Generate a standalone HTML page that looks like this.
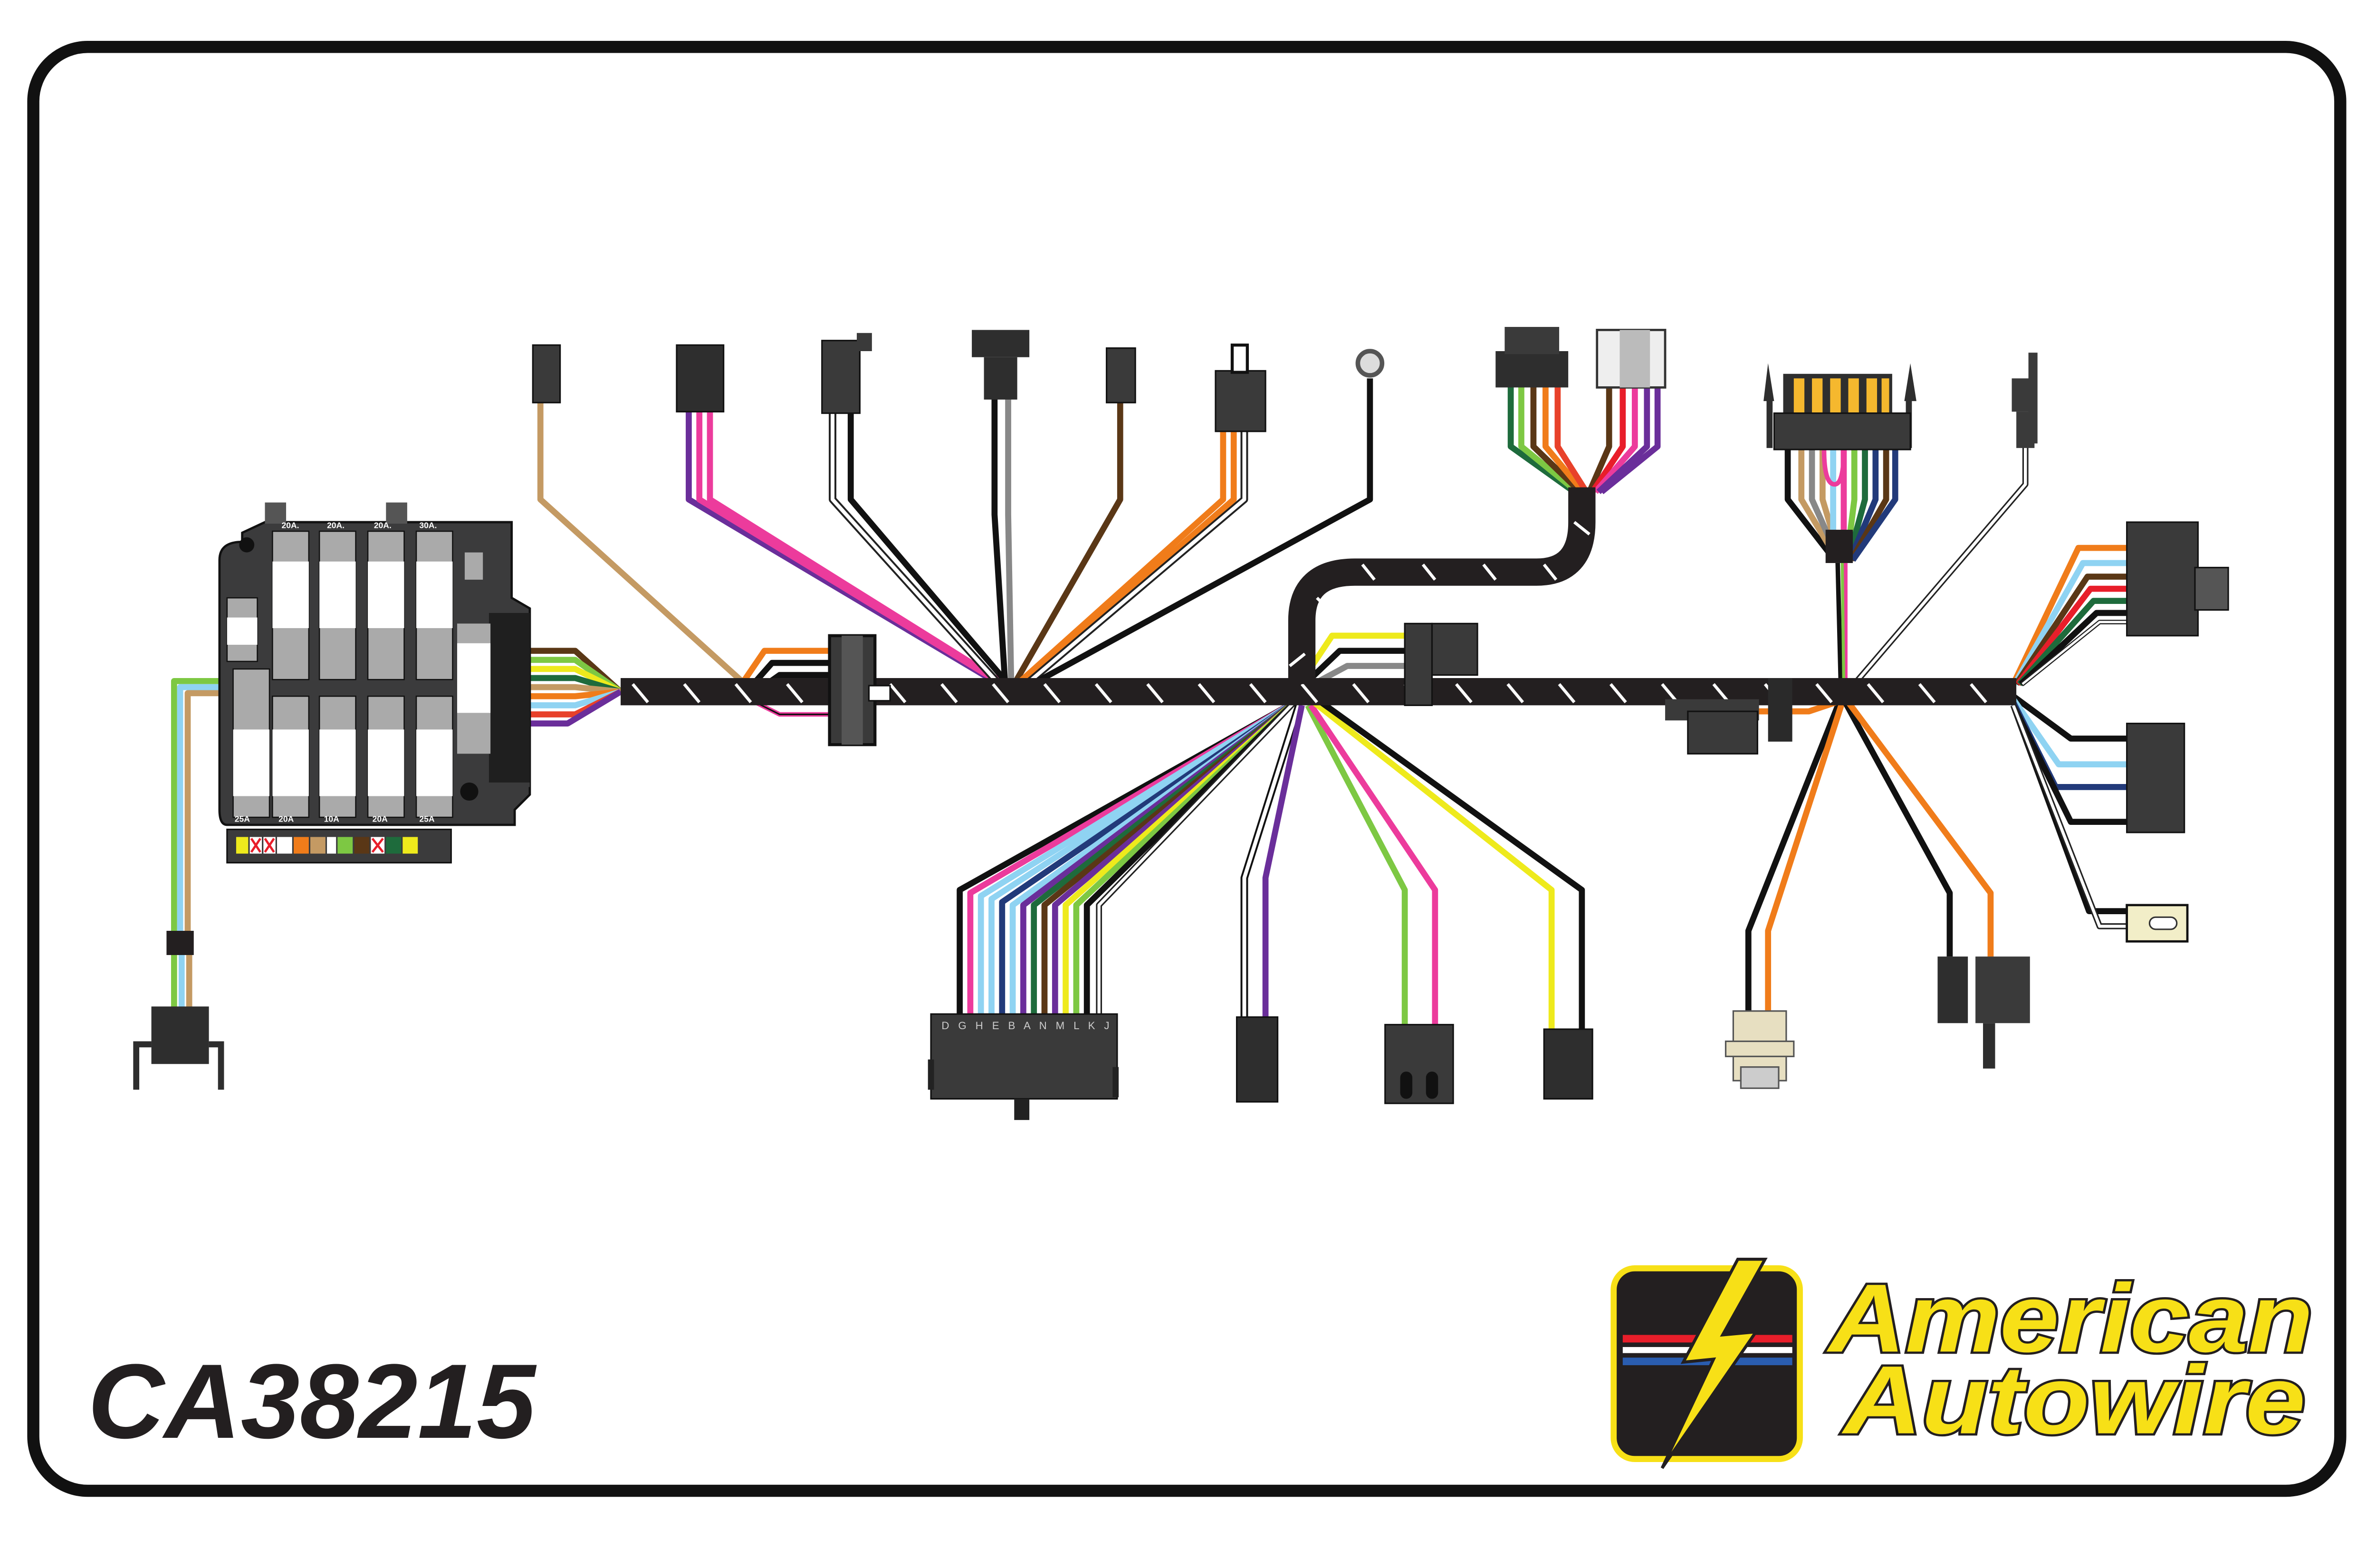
<!DOCTYPE html>
<html><head><meta charset="utf-8"><style>
html,body{margin:0;padding:0;background:#fff;overflow:hidden;}
svg{display:block;}
</style></head><body>
<svg width="5100" height="3300" viewBox="0 0 1601 1036" preserveAspectRatio="none" xmlns="http://www.w3.org/2000/svg">
<defs>
<pattern id="dash" width="34" height="20" patternUnits="userSpaceOnUse" x="0" y="448">
<line x1="10" y1="4" x2="20" y2="16" stroke="#fff" stroke-width="2"/>
</pattern>
</defs>
<rect x="0" y="0" width="1601" height="1036" fill="#fff"/>
<rect x="22" y="31" width="1524" height="954" rx="36" fill="none" stroke="#111" stroke-width="8"/>

<g fill="none" stroke-linejoin="round" stroke-width="4">
<polyline points="150,450 115,450 115,615" stroke="#7dc843"/>
<polyline points="150,454 119,454 119,615" stroke="#8fd3f2"/>
<polyline points="150,458 124,458 124,615" stroke="#c49a63"/>
<polyline points="115,630 115,668" stroke="#7dc843"/>
<polyline points="120,630 120,668" stroke="#8fd3f2"/>
<polyline points="125,630 125,668" stroke="#c49a63"/>
<polyline points="350,430 380,430 410,457" stroke="#5a3716"/>
<polyline points="350,436 380,436 410,457" stroke="#7dc843"/>
<polyline points="350,442 380,442 410,457" stroke="#eeea1c"/>
<polyline points="350,448 380,448 410,457" stroke="#1e6b3c"/>
<polyline points="350,454 380,454 410,457" stroke="#c49a63"/>
<polyline points="350,460 380,460 410,457" stroke="#f07c1a"/>
<polyline points="350,466 380,466 410,457" stroke="#8fd3f2"/>
<polyline points="350,472 380,472 410,457" stroke="#e8412a"/>
<polyline points="350,478 375,478 410,457" stroke="#6a2e9a"/>
<polyline points="357,265 357,330 490,450" stroke="#c49a63"/>
<polyline points="455,272 455,330 660,452" stroke="#6a2e9a"/>
<polyline points="462,272 462,330 662,452" stroke="#ec3b9c"/>
<polyline points="469,272 469,330 664,452" stroke="#ec3b9c"/>
<polyline points="550,272 550,330 660,452" stroke="#222" stroke-width="5"/>
<polyline points="550,272 550,330 660,452" stroke="#fff" stroke-width="2.5"/>
<polyline points="562,272 562,330 666,452" stroke="#111"/>
<polyline points="657,262 657,340 664,452" stroke="#111"/>
<polyline points="666,262 666,340 668,452" stroke="#888"/>
<polyline points="740,265 740,330 670,452" stroke="#5a3716"/>
<polyline points="808,285 808,330 672,452" stroke="#f07c1a"/>
<polyline points="815,285 815,330 675,452" stroke="#f07c1a"/>
<polyline points="822,285 822,330 678,452" stroke="#222" stroke-width="5"/>
<polyline points="822,285 822,330 678,452" stroke="#fff" stroke-width="2.5"/>
<polyline points="905,250 905,330 682,452" stroke="#111"/>
<polyline points="998,255 998,295 1040,325" stroke="#1e6b3c"/>
<polyline points="1005,255 1005,295 1042,325" stroke="#7dc843"/>
<polyline points="1013,255 1013,295 1044,325" stroke="#5a3716"/>
<polyline points="1021,255 1021,295 1046,325" stroke="#f07c1a"/>
<polyline points="1029,255 1029,295 1048,325" stroke="#e8412a"/>
<polyline points="1063,255 1063,295 1050,325" stroke="#5a3716"/>
<polyline points="1072,255 1072,295 1052,325" stroke="#e81e2a"/>
<polyline points="1080,255 1080,295 1054,325" stroke="#ec3b9c"/>
<polyline points="1088,255 1088,295 1056,325" stroke="#6a2e9a"/>
<polyline points="1095,255 1095,295 1058,325" stroke="#6a2e9a"/>
<polyline points="1181,297 1181,330 1212,370" stroke="#111"/>
<polyline points="1190,297 1190,330 1214,370" stroke="#c49a63"/>
<polyline points="1197,297 1197,330 1215,370" stroke="#888"/>
<polyline points="1204,297 1204,330 1216,370" stroke="#c49a63"/>
<polyline points="1211,297 1211,370" stroke="#8fd3f2"/>
<polyline points="1218,297 1218,370" stroke="#ec3b9c"/>
<polyline points="1225,297 1225,330 1220,370" stroke="#7dc843"/>
<polyline points="1232,297 1232,330 1221,370" stroke="#1e6b3c"/>
<polyline points="1239,297 1239,330 1222,370" stroke="#223a7a"/>
<polyline points="1246,297 1246,330 1223,370" stroke="#5a3716"/>
<polyline points="1252,297 1252,330 1224,370" stroke="#223a7a"/>
<path d="M1205,297 Q1205,320 1212,320 Q1218,320 1218,297" stroke="#ec3b9c" stroke-width="3"/>
<polyline points="1214,372 1216,452" stroke="#111" stroke-width="3"/>
<polyline points="1219,372 1219,452" stroke="#ec3b9c" stroke-width="3"/>
<polyline points="1217,372 1218,452" stroke="#7dc843" stroke-width="2"/>
<polyline points="1338,295 1338,320 1225,452" stroke="#222" stroke-width="4"/>
<polyline points="1338,295 1338,320 1225,452" stroke="#fff" stroke-width="2"/>
<polyline points="1405,362 1373,362 1330,452" stroke="#f07c1a"/>
<polyline points="1405,372 1376,372 1331,452" stroke="#8fd3f2"/>
<polyline points="1405,381 1379,381 1332,452" stroke="#5a3716"/>
<polyline points="1405,389 1381,389 1333,452" stroke="#e81e2a"/>
<polyline points="1405,397 1383,397 1334,452" stroke="#1e6b3c"/>
<polyline points="1405,405 1385,405 1335,452" stroke="#111"/>
<polyline points="1405,411 1387,411 1336,452" stroke="#222" stroke-width="3"/>
<polyline points="1405,411 1387,411 1336,452" stroke="#fff" stroke-width="1.5"/>
<polyline points="1330,460 1368,488 1408,488" stroke="#111"/>
<polyline points="1330,462 1360,505 1408,505" stroke="#8fd3f2"/>
<polyline points="1330,464 1358,520 1408,520" stroke="#223a7a"/>
<polyline points="1330,466 1368,543 1408,543" stroke="#111"/>
<polyline points="1330,466 1380,602 1408,602" stroke="#111"/>
<polyline points="1330,466 1387,612 1408,612" stroke="#222" stroke-width="4"/>
<polyline points="1330,466 1387,612 1408,612" stroke="#fff" stroke-width="2"/>
<polyline points="490,452 505,430 550,430" stroke="#f07c1a"/>
<polyline points="495,455 510,438 550,438" stroke="#111"/>
<polyline points="498,458 515,446 550,446" stroke="#111"/>
<polyline points="495,462 515,472 550,472" stroke="#ec3b9c" stroke-width="3"/>
<polyline points="495,462 515,472 550,472" stroke="#111" stroke-width="1" />
<polyline points="860,450 880,420 930,420" stroke="#eeea1c"/>
<polyline points="862,452 885,430 930,430" stroke="#111"/>
<polyline points="864,454 890,440 930,440" stroke="#888"/>
<polyline points="855,464 634,588 634,672" stroke="#111"/>
<polyline points="855,464 641,590 641,672" stroke="#ec3b9c"/>
<polyline points="855,464 648,592 648,672" stroke="#8fd3f2"/>
<polyline points="855,464 655,594 655,672" stroke="#8fd3f2"/>
<polyline points="855,464 662,596 662,672" stroke="#223a7a"/>
<polyline points="855,464 669,598 669,672" stroke="#8fd3f2"/>
<polyline points="855,464 676,598 676,672" stroke="#6a2e9a"/>
<polyline points="855,464 683,598 683,672" stroke="#1e6b3c"/>
<polyline points="855,464 690,598 690,672" stroke="#5a3716"/>
<polyline points="855,464 697,598 697,672" stroke="#6a2e9a"/>
<polyline points="855,464 704,598 704,672" stroke="#eeea1c"/>
<polyline points="855,464 711,598 711,672" stroke="#7dc843"/>
<polyline points="855,464 718,598 718,672" stroke="#111"/>
<polyline points="855,464 726,598 726,672" stroke="#222" stroke-width="4"/>
<polyline points="855,464 726,598 726,672" stroke="#fff" stroke-width="2"/>
<polyline points="858,466 822,580 822,672" stroke="#111" stroke-width="5"/>
<polyline points="858,466 822,580 822,672" stroke="#fff" stroke-width="2.5"/>
<polyline points="860,466 836,580 836,672" stroke="#6a2e9a"/>
<polyline points="864,466 928,588 928,678" stroke="#7dc843"/>
<polyline points="866,466 948,588 948,678" stroke="#ec3b9c"/>
<polyline points="868,464 1025,588 1025,680" stroke="#eeea1c"/>
<polyline points="870,462 1045,588 1045,680" stroke="#111"/>
<polyline points="1215,464 1155,615 1155,672" stroke="#111"/>
<polyline points="1217,464 1168,615 1168,672" stroke="#f07c1a"/>
<polyline points="1219,464 1288,590 1288,632" stroke="#111"/>
<polyline points="1221,464 1315,590 1315,632" stroke="#f07c1a"/>
<polyline points="1213,464 1195,470 1160,470" stroke="#f07c1a"/>
</g>

<rect x="410" y="448" width="922" height="18" fill="#231f20"/>
<rect x="410" y="448" width="922" height="18" fill="url(#dash)"/>
<path d="M860,452 L860,410 Q860,378 895,378 L1015,378 Q1045,378 1045,345 L1045,322" fill="none" stroke="#231f20" stroke-width="18"/>
<path d="M862,432 l-10,8 M870,395 l8,8 M900,373 l8,10 M940,373 l8,10 M980,373 l8,10 M1020,373 l8,10 M1040,345 l10,8" stroke="#fff" stroke-width="2"/>

<rect x="548" y="420" width="30" height="72" fill="#3a3a3a" stroke="#111" stroke-width="2"/>
<rect x="556" y="420" width="14" height="72" fill="#555"/>
<rect x="574" y="453" width="14" height="10" fill="#fff" stroke="#111"/>
<rect x="928" y="412" width="18" height="54" fill="#3a3a3a" stroke="#111"/>
<rect x="946" y="412" width="30" height="34" fill="#3a3a3a" stroke="#111"/>
<rect x="1100" y="462" width="62" height="14" fill="#3a3a3a"/>
<rect x="1115" y="470" width="46" height="28" fill="#3a3a3a" stroke="#111"/>
<rect x="1168" y="448" width="16" height="42" fill="#2a2a2a"/>
<rect x="1206" y="350" width="18" height="22" fill="#231f20"/>

<rect x="352" y="228" width="18" height="38" fill="#3a3a3a" stroke="#111"/>
<rect x="447" y="228" width="31" height="44" fill="#2e2e2e" stroke="#111"/>
<rect x="543" y="225" width="25" height="48" fill="#3a3a3a" stroke="#111"/>
<rect x="566" y="220" width="10" height="12" fill="#3a3a3a"/>
<rect x="642" y="218" width="38" height="18" fill="#2e2e2e"/>
<rect x="650" y="236" width="22" height="28" fill="#2e2e2e"/>
<rect x="731" y="230" width="19" height="36" fill="#3a3a3a" stroke="#111"/>
<rect x="803" y="245" width="33" height="40" fill="#3a3a3a" stroke="#111"/>
<rect x="814" y="228" width="10" height="18" fill="#fff" stroke="#111" stroke-width="2"/>
<circle cx="905" cy="240" r="8" fill="#ddd" stroke="#555" stroke-width="3"/>
<rect x="988" y="232" width="48" height="24" fill="#2e2e2e"/>
<rect x="994" y="216" width="36" height="18" fill="#3a3a3a"/>
<rect x="1055" y="218" width="45" height="38" fill="#eee" stroke="#333" stroke-width="1.5"/>
<rect x="1070" y="218" width="20" height="38" fill="#bbb"/>
<path d="M1165,265 L1168,240 L1172,265 Z M1266,265 L1262,240 L1258,265 Z" fill="#2e2e2e"/>
<rect x="1167" y="260" width="4" height="36" fill="#2e2e2e"/>
<rect x="1259" y="260" width="4" height="36" fill="#2e2e2e"/>
<rect x="1178" y="247" width="72" height="28" fill="#2e2e2e"/>
<g fill="#f5b82e"><rect x="1185" y="250" width="7" height="24"/><rect x="1197" y="250" width="7" height="24"/><rect x="1209" y="250" width="7" height="24"/><rect x="1221" y="250" width="7" height="24"/><rect x="1233" y="250" width="7" height="24"/><rect x="1243" y="250" width="5" height="24"/></g>
<rect x="1172" y="273" width="90" height="24" fill="#3a3a3a" stroke="#111"/>
<rect x="1329" y="250" width="16" height="22" fill="#3a3a3a"/>
<rect x="1340" y="233" width="6" height="60" fill="#3a3a3a"/>
<rect x="1332" y="272" width="12" height="24" fill="#3a3a3a"/>

<rect x="1405" y="345" width="47" height="75" fill="#3a3a3a" stroke="#111"/>
<rect x="1450" y="375" width="22" height="28" fill="#555" stroke="#111"/>
<rect x="1405" y="478" width="38" height="72" fill="#3a3a3a" stroke="#111"/>
<rect x="1405" y="598" width="40" height="24" fill="#f2eec8" stroke="#111" stroke-width="1.5"/>
<rect x="1420" y="606" width="18" height="8" rx="4" fill="#fff" stroke="#333"/>

<rect x="615" y="670" width="123" height="56" fill="#3a3a3a" stroke="#111"/>
<rect x="613" y="700" width="4" height="20" fill="#222"/>
<rect x="735" y="705" width="4" height="20" fill="#222"/>
<rect x="670" y="726" width="10" height="14" fill="#222"/>
<text x="622" y="680" font-family="Liberation Sans,sans-serif" font-size="7" fill="#ccc" letter-spacing="2">D G H E B     A N M L K J</text>
<rect x="817" y="672" width="27" height="56" fill="#2e2e2e" stroke="#111"/>
<rect x="915" y="677" width="45" height="52" fill="#3a3a3a" stroke="#111"/>
<rect x="925" y="708" width="8" height="18" rx="4" fill="#111"/>
<rect x="942" y="708" width="8" height="18" rx="4" fill="#111"/>
<rect x="1020" y="680" width="32" height="46" fill="#2e2e2e" stroke="#111"/>
<rect x="1145" y="668" width="35" height="46" fill="#e7dfc1" stroke="#555"/>
<rect x="1140" y="688" width="45" height="10" fill="#e7dfc1" stroke="#555"/>
<rect x="1150" y="705" width="25" height="14" fill="#ccc" stroke="#555"/>
<rect x="1280" y="632" width="20" height="44" fill="#2e2e2e"/>
<rect x="1305" y="632" width="36" height="44" fill="#3a3a3a"/>
<rect x="1310" y="676" width="8" height="30" fill="#2e2e2e"/>
<rect x="110" y="615" width="18" height="16" fill="#231f20"/>
<rect x="100" y="665" width="38" height="38" fill="#2e2e2e"/>
<path d="M90,720 L90,690 L100,690 M146,720 L146,690 L138,690" fill="none" stroke="#2e2e2e" stroke-width="4"/>

<path d="M175,345 L338,345 L338,395 L350,402 L350,525 L340,535 L340,545 L150,545 Q145,545 145,535 L145,370 Q145,358 160,358 L160,352 Z" fill="#3b3b3c" stroke="#111" stroke-width="1.5"/>
<rect x="300" y="405" width="50" height="115" fill="#3b3b3c"/>
<rect x="323" y="405" width="27" height="112" fill="#1f1f1f"/>
<rect x="302" y="412" width="22" height="86" fill="#aaa"/>
<rect x="302" y="425" width="22" height="46" fill="#fff"/>
<rect x="307" y="365" width="12" height="18" fill="#aaa"/>
<rect x="175" y="332" width="14" height="14" fill="#555"/>
<rect x="255" y="332" width="14" height="14" fill="#555"/>
<circle cx="163" cy="360" r="5" fill="#111"/>
<circle cx="310" cy="523" r="6" fill="#111"/>
<g fill="#aaa" stroke="#111" stroke-width="0.8">
<rect x="180" y="351" width="24" height="98"/><rect x="211" y="351" width="24" height="98"/><rect x="243" y="351" width="24" height="98"/><rect x="275" y="351" width="24" height="98"/>
<rect x="154" y="442" width="24" height="98"/><rect x="180" y="460" width="24" height="80"/><rect x="211" y="460" width="24" height="80"/><rect x="243" y="460" width="24" height="80"/><rect x="275" y="460" width="24" height="80"/>
<rect x="150" y="395" width="20" height="42"/>
</g>
<g fill="#fff">
<rect x="180" y="371" width="24" height="44"/><rect x="211" y="371" width="24" height="44"/><rect x="243" y="371" width="24" height="44"/><rect x="275" y="371" width="24" height="44"/>
<rect x="154" y="482" width="24" height="44"/><rect x="180" y="482" width="24" height="44"/><rect x="211" y="482" width="24" height="44"/><rect x="243" y="482" width="24" height="44"/><rect x="275" y="482" width="24" height="44"/>
<rect x="150" y="408" width="20" height="18"/>
</g>
<g fill="#aaa"><rect x="186" y="437" width="14" height="6"/><rect x="217" y="437" width="14" height="6"/><rect x="250" y="437" width="14" height="6"/><rect x="281" y="437" width="14" height="6"/></g>
<g font-family="Liberation Sans,sans-serif" font-size="5.5" fill="#fff" font-weight="bold">
<text x="186" y="349">20A.</text><text x="216" y="349">20A.</text><text x="247" y="349">20A.</text><text x="277" y="349">30A.</text>
<text x="155" y="543">25A</text><text x="184" y="543">20A</text><text x="214" y="543">10A</text><text x="246" y="543">20A</text><text x="277" y="543">25A</text>
</g>
<rect x="150" y="548" width="148" height="22" fill="#3b3b3c" stroke="#111"/>
<g>
<rect x="156" y="553" width="8" height="11" fill="#eeea1c"/><rect x="165" y="553" width="8" height="11" fill="#fff"/><rect x="174" y="553" width="8" height="11" fill="#fff"/><rect x="183" y="553" width="10" height="11" fill="#fff"/><rect x="194" y="553" width="10" height="11" fill="#f07c1a"/><rect x="205" y="553" width="10" height="11" fill="#c49a63"/><rect x="216" y="553" width="6" height="11" fill="#fff"/><rect x="223" y="553" width="10" height="11" fill="#7dc843"/><rect x="234" y="553" width="10" height="11" fill="#5a3716"/><rect x="245" y="553" width="9" height="11" fill="#fff"/><rect x="255" y="553" width="10" height="11" fill="#1e6b3c"/><rect x="266" y="553" width="10" height="11" fill="#eeea1c"/>
<path d="M166,554 l6,9 M172,554 l-6,9 M175,554 l6,9 M181,554 l-6,9 M246,554 l7,9 M253,554 l-7,9" stroke="#e81e2a" stroke-width="1.5"/>
</g>

<text x="58" y="950" font-family="Liberation Sans,sans-serif" font-size="70" font-weight="bold" font-style="italic" fill="#231f20">CA38215</text>

<rect x="1066" y="838" width="123" height="126" rx="14" fill="#231f20" stroke="#f7e017" stroke-width="4"/>
<rect x="1072" y="882" width="112" height="5" fill="#e81e2a"/>
<rect x="1072" y="890" width="112" height="4" fill="#fff"/>
<rect x="1072" y="897" width="112" height="5" fill="#2a5db0"/>
<path d="M1148,832 L1112,900 L1132,898 L1098,970 L1160,880 L1138,882 L1166,832 Z" fill="#f7e017" stroke="#231f20" stroke-width="2"/>
<g font-family="Liberation Sans,sans-serif" font-size="64" font-weight="bold" font-style="italic" fill="#f7e017" stroke="#231f20" stroke-width="3" paint-order="stroke">
<text x="1208" y="893" textLength="320" lengthAdjust="spacingAndGlyphs">American</text>
<text x="1218" y="947" textLength="305" lengthAdjust="spacingAndGlyphs">Autowire</text>
</g>
</svg>
</body></html>
